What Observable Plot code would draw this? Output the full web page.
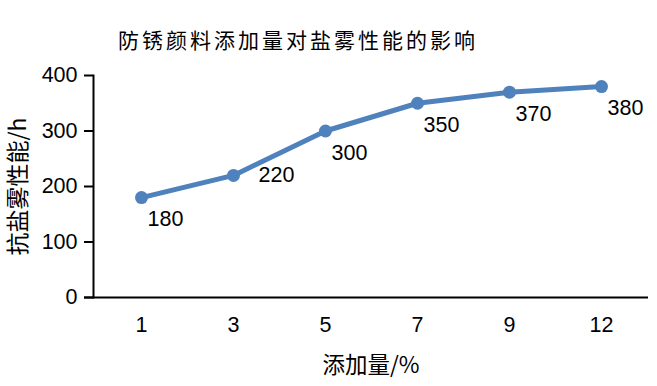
<!DOCTYPE html>
<html>
<head>
<meta charset="utf-8">
<script src="https://cdn.jsdelivr.net/npm/d3@7"></script>
<script src="https://cdn.jsdelivr.net/npm/@observablehq/plot@0.6"></script>
<style>
  html, body { margin: 0; padding: 0; background: #fff; }
  #wrap { position: relative; width: 657px; height: 386px; }
  #title { position: absolute; left: 118px; top: 26px; font-family: "Noto Sans CJK SC", sans-serif; font-size: 21px; letter-spacing: 3px; line-height: 26px; color: #000; white-space: nowrap; }
</style>
</head>
<body>
<div id="wrap"><div id="title">防锈颜料添加量对盐雾性能的影响</div></div>
<script>
const titleText = "防锈颜料添加量对盐雾性能的影响";
const xLabel = "添加量/%";
const yLabel = "抗盐雾性能/h";
const categories = ["1", "3", "5", "7", "9", "12"];
const values = [180, 220, 300, 350, 370, 380];
const labelPosition = ["below", "right", "below", "below", "below", "below"];
const yTicks = [0, 100, 200, 300, 400];

const data = categories.map((c, i) => ({cat: c, value: values[i], pos: labelPosition[i]}));
const color = "#4F81BD";
const numFont = "Liberation Sans, Arial, sans-serif";
const cjkFont = "Noto Sans CJK SC, sans-serif";
const numSize = 21.5;

document.getElementById("title").textContent = titleText;

const chart = Plot.plot({
  width: 657,
  height: 386,
  marginLeft: 93,
  marginRight: 9,
  marginTop: 75,
  marginBottom: 89,
  style: {fontFamily: numFont, fontSize: numSize + "px", color: "#000", background: "#fff"},
  x: {type: "band", domain: categories, padding: 0, align: 0.5},
  y: {domain: [0, 400]},
  marks: [
    Plot.axisX({tickSize: 0, tickPadding: 19, label: null, fontSize: numSize}),
    Plot.axisY({ticks: yTicks, tickSize: 9, tickPadding: 7, strokeWidth: 2, label: null, fontSize: numSize}),
    Plot.frame({anchor: "left", stroke: "#000", strokeWidth: 2}),
    Plot.ruleY([0], {stroke: "#000", strokeWidth: 2, insetLeft: -9}),
    Plot.line(data, {x: "cat", y: "value", stroke: color, strokeWidth: 5}),
    Plot.dot(data, {x: "cat", y: "value", r: 6.5, fill: color}),
    Plot.text(data.filter(d => d.pos === "below"), {x: "cat", y: "value", text: d => String(d.value), dx: 24, dy: 22, fontSize: numSize, fill: "#000"}),
    Plot.text(data.filter(d => d.pos === "right"), {x: "cat", y: "value", text: d => String(d.value), dx: 43, dy: 0, fontSize: numSize, fill: "#000"}),
    Plot.text([yLabel], {frameAnchor: "left", text: d => d, rotate: -90, textAnchor: "middle", lineAnchor: "middle", dx: -75, fontSize: 23, fontFamily: cjkFont, fill: "#000"}),
    Plot.text([xLabel], {frameAnchor: "bottom", text: d => d, textAnchor: "middle", lineAnchor: "middle", dy: 68, fontSize: 22.5, fontFamily: cjkFont, fill: "#000"})
  ]
});
document.getElementById("wrap").appendChild(chart);
</script>
</body>
</html>
